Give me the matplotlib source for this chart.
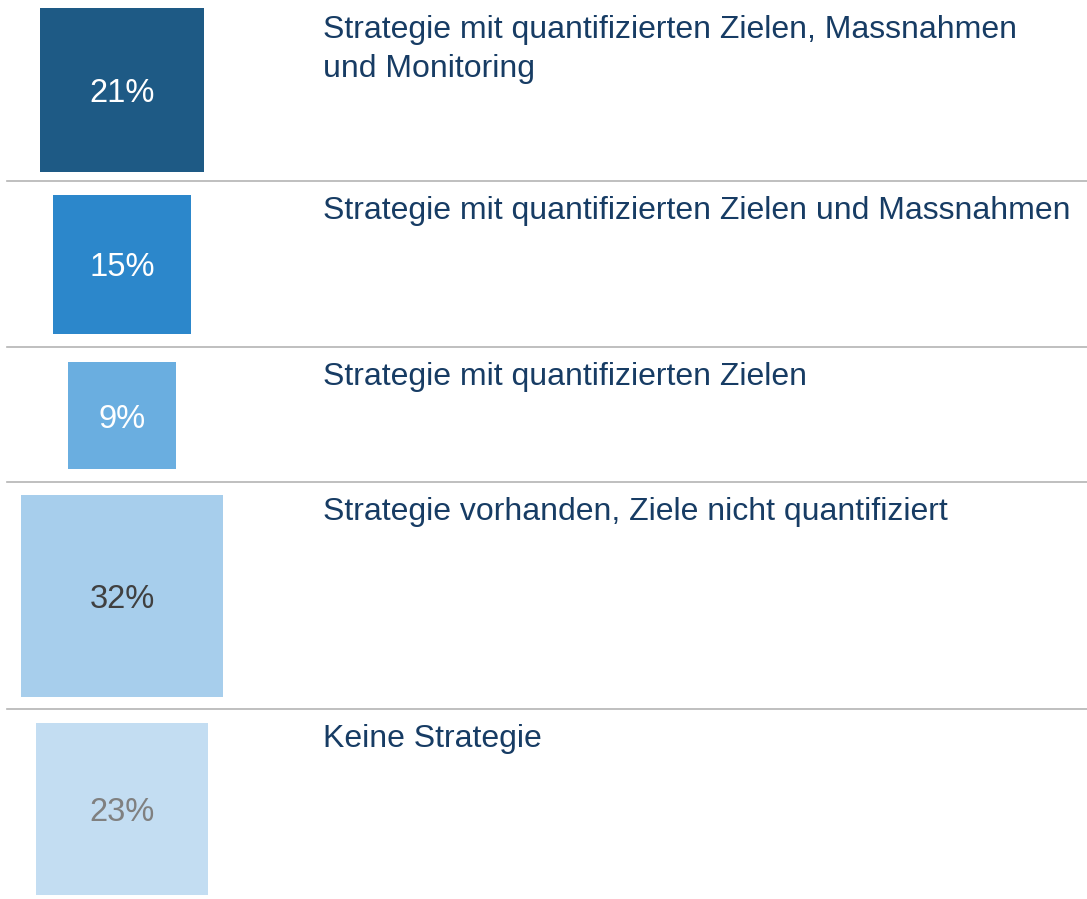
import numpy as np
import matplotlib.pyplot as plt
from matplotlib.patches import Rectangle

# Daten
labels = [
    "Strategie mit quantifizierten Zielen, Massnahmen\nund Monitoring",
    "Strategie mit quantifizierten Zielen und Massnahmen",
    "Strategie mit quantifizierten Zielen",
    "Strategie vorhanden, Ziele nicht quantifiziert",
    "Keine Strategie",
]
values = [21, 15, 9, 32, 23]

# Stil
box_colors = ["#1e5a85", "#2c87cb", "#6aaee0", "#a7ceec", "#c3ddf2"]
pct_colors = ["white", "white", "white", "#404040", "#808080"]
text_color = "#173c64"
line_color = "#b4b4b4"

# Layout (Pixel, y nach unten)
W, H = 1087, 899
row_tops = [0, 180.5, 347.3, 481.7, 709]
box_cy = [90, 264.5, 415.5, 596, 809]
box_cx = 122
k = 35.7          # Seitenlänge = k * sqrt(Wert)
line_gap = 39     # Zeilenabstand der Beschriftung

plt.rcParams['font.family'] = ['Liberation Sans', 'DejaVu Sans']

fig = plt.figure(figsize=(W / 100, H / 100), dpi=100)
ax = fig.add_axes([0, 0, 1, 1])
ax.set_xlim(0, W)
ax.set_ylim(H, 0)
ax.axis("off")

for i, (lab, v) in enumerate(zip(labels, values)):
    s = k * np.sqrt(v)
    ax.add_patch(Rectangle((box_cx - s / 2, box_cy[i] - s / 2), s, s,
                           facecolor=box_colors[i], edgecolor="none"))
    ax.text(box_cx, box_cy[i], f"{v}%", ha="center", va="center_baseline",
            fontsize=23.5, color=pct_colors[i])
    for j, part in enumerate(lab.split("\n")):
        ax.text(323, row_tops[i] + 38 + j * line_gap, part, ha="left",
                va="baseline", fontsize=23, color=text_color)
    if i > 0:
        ax.plot([7, W], [row_tops[i], row_tops[i]], color=line_color, lw=1.2)

fig.savefig("out.png", dpi=100)
